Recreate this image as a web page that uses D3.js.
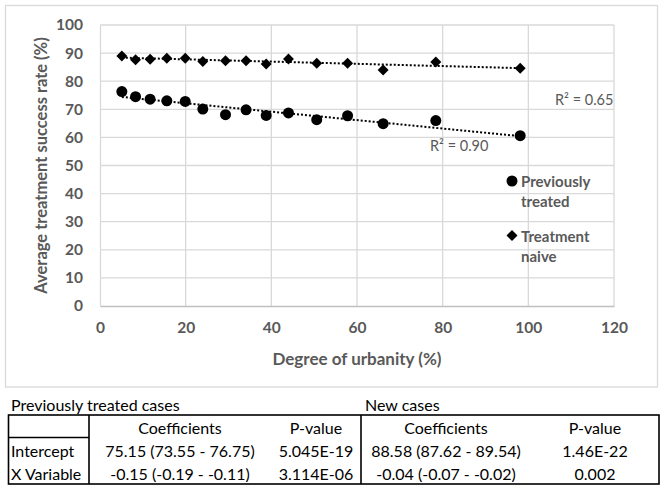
<!DOCTYPE html>
<html>
<head>
<meta charset="utf-8">
<script src="https://cdn.jsdelivr.net/npm/d3@7"></script>
<style>
  body { margin: 0; background: #fff; }
  svg { display: block; font-family: Lato, "Open Sans", sans-serif; }
</style>
</head>
<body>
<svg id="chart" width="666" height="490"></svg>
<script>
// ---- data ----
const urbanity = [5.1, 8.3, 11.7, 15.6, 19.9, 24.0, 29.3, 34.1, 38.8, 44.0, 50.6, 57.8, 66.1, 78.4, 98.1];
const previouslyTreated = [76.3, 74.5, 73.6, 73.0, 72.8, 70.1, 68.1, 69.8, 67.8, 68.7, 66.3, 67.7, 64.9, 66.0, 60.6];
const treatmentNaive = [89.0, 87.6, 87.8, 88.2, 88.2, 87.0, 87.3, 87.3, 86.1, 87.9, 86.4, 86.4, 84.0, 86.8, 84.6];
const seriesNames = ["Previously treated", "Treatment naive"];
const rSquared = ["0.90", "0.65"];
const xTicks = [0, 20, 40, 60, 80, 100, 120];
const yTicks = [0, 10, 20, 30, 40, 50, 60, 70, 80, 90, 100];
const xTitle = "Degree of urbanity (%)";
const yTitle = "Average treatment success rate (%)";
// trend coefficients (intercept, slope)
const trendPrev = [75.15, -0.15];
const trendNaive = [88.58, -0.04];
// table
const tableGroups = ["Previously treated cases", "New cases"];
const tableHeader = ["", "Coefficients", "P-value", "Coefficients", "P-value"];
const tableRowLabels = ["Intercept", "X Variable"];
const prevCoefs = ["75.15 (73.55 - 76.75)", "-0.15 (-0.19 - -0.11)"];
const prevP = ["5.045E-19", "3.114E-06"];
const newCoefs = ["88.58 (87.62 - 89.54)", "-0.04 (-0.07 - -0.02)"];
const newP = ["1.46E-22", "0.002"];

// ---- layout ----
const svg = d3.select("#chart");
const gray = "#595959";
const plot = { left: 100, right: 614, top: 25, bottom: 306 };
const x = d3.scaleLinear().domain([0, 120]).range([plot.left, plot.right]);
const y = d3.scaleLinear().domain([0, 100]).range([plot.bottom, plot.top]);

// chart area border
svg.append("rect").attr("x", 5.5).attr("y", 5.5).attr("width", 652).attr("height", 381.5)
  .attr("fill", "#fff").attr("stroke", "#d9d9d9").attr("stroke-width", 1.3);

// gridlines
const grid = svg.append("g");
grid.selectAll("line.h").data(yTicks.filter(d => d > 0)).join("line")
  .attr("x1", plot.left).attr("x2", plot.right)
  .attr("y1", d => y(d)).attr("y2", d => y(d))
  .attr("stroke", "#d9d9d9").attr("stroke-width", 1.3);
grid.selectAll("line.v").data(xTicks.filter(d => d > 0)).join("line")
  .attr("x1", d => x(d)).attr("x2", d => x(d))
  .attr("y1", plot.top).attr("y2", plot.bottom)
  .attr("stroke", "#d9d9d9").attr("stroke-width", 1.3);

// axes
const xAxis = svg.append("g").attr("transform", `translate(0,${plot.bottom})`)
  .call(d3.axisBottom(x).tickValues(xTicks).tickSize(0).tickPadding(16));
const yAxis = svg.append("g").attr("transform", `translate(${plot.left},0)`)
  .call(d3.axisLeft(y).tickValues(yTicks).tickSize(0).tickPadding(17));
[xAxis, yAxis].forEach(a => {
  a.select(".domain").attr("stroke", "#bfbfbf").attr("stroke-width", 1.3);
  a.selectAll("text").attr("fill", gray).attr("font-size", 15.5).attr("font-weight", 700)
    .attr("font-family", "Lato, sans-serif");
});
yAxis.select(".domain").attr("stroke", "#d9d9d9");

// axis titles
svg.append("text").attr("x", (plot.left + plot.right) / 2).attr("y", 358)
  .attr("text-anchor", "middle").attr("dominant-baseline", "central")
  .attr("fill", gray).attr("font-size", 17).attr("font-weight", 700).text(xTitle);
svg.append("text").attr("transform", `translate(41,${(plot.top + plot.bottom) / 2}) rotate(-90)`)
  .attr("text-anchor", "middle").attr("dominant-baseline", "central")
  .attr("fill", gray).attr("font-size", 16.5).attr("font-weight", 700).text(yTitle);

// trendlines
const xMin = d3.min(urbanity), xMax = d3.max(urbanity);
[trendPrev, trendNaive].forEach(c => {
  svg.append("line")
    .attr("x1", x(xMin)).attr("y1", y(c[0] + c[1] * xMin))
    .attr("x2", x(xMax)).attr("y2", y(c[0] + c[1] * xMax))
    .attr("stroke", "#000").attr("stroke-width", 2)
    .attr("stroke-dasharray", "2 2");
});

// markers
const diamond = d3.symbol().type(d3.symbolSquare).size(60);
svg.append("g").selectAll("circle").data(urbanity.map((u, i) => [u, previouslyTreated[i]])).join("circle")
  .attr("cx", d => x(d[0])).attr("cy", d => y(d[1])).attr("r", 5.5).attr("fill", "#000");
svg.append("g").selectAll("path").data(urbanity.map((u, i) => [u, treatmentNaive[i]])).join("path")
  .attr("d", diamond)
  .attr("transform", d => `translate(${x(d[0])},${y(d[1])}) rotate(45)`).attr("fill", "#000");

// R² labels
svg.append("text").attr("x", 430).attr("y", 145).attr("dominant-baseline", "central")
  .attr("fill", gray).attr("font-size", 14.5)
  .text(`R\u00B2 = ${rSquared[0]}`);
svg.append("text").attr("x", 555).attr("y", 99.5).attr("dominant-baseline", "central")
  .attr("fill", gray).attr("font-size", 14.5)
  .text(`R\u00B2 = ${rSquared[1]}`);

// legend
const legend = svg.append("g");
const legendY = [181, 235.5];
seriesNames.forEach((name, i) => {
  const words = name.split(" ");
  if (i === 0) legend.append("circle").attr("cx", 512).attr("cy", legendY[i]).attr("r", 5.5).attr("fill", "#000");
  else legend.append("path").attr("d", diamond)
    .attr("transform", `translate(512,${legendY[i]}) rotate(45)`).attr("fill", "#000");
  words.forEach((w, j) => {
    legend.append("text").attr("x", 521).attr("y", legendY[i] + j * 20)
      .attr("dominant-baseline", "central").attr("fill", gray)
      .attr("font-size", 15).attr("font-weight", 700).text(w);
  });
});

// ---- table ----
const tbl = svg.append("g").attr("font-size", 16).attr("fill", "#000");
tbl.append("text").attr("x", 11).attr("y", 404).attr("dominant-baseline", "central").text(tableGroups[0]);
tbl.append("text").attr("x", 365).attr("y", 404).attr("dominant-baseline", "central").text(tableGroups[1]);
const colEdges = [8.5, 89, 271, 361, 531, 659];
const rowY = [427, 450, 473];
const T = { top: 415, bottom: 484 };
// borders
tbl.append("rect").attr("x", colEdges[0]).attr("y", T.top)
  .attr("width", colEdges[5] - colEdges[0]).attr("height", T.bottom - T.top)
  .attr("fill", "none").attr("stroke", "#000").attr("stroke-width", 1.6);
[colEdges[1], colEdges[3]].forEach(cx => tbl.append("line").attr("x1", cx).attr("x2", cx)
  .attr("y1", T.top).attr("y2", T.bottom).attr("stroke", "#000").attr("stroke-width", 1.6));
tbl.append("line").attr("x1", colEdges[0]).attr("x2", colEdges[1]).attr("y1", 437.5).attr("y2", 437.5)
  .attr("stroke", "#000").attr("stroke-width", 1.3);
const colCenter = i => (colEdges[i] + colEdges[i + 1]) / 2;
tableHeader.forEach((h, i) => {
  if (h) tbl.append("text").attr("x", colCenter(i)).attr("y", rowY[0])
    .attr("text-anchor", "middle").attr("dominant-baseline", "central").text(h);
});
tableRowLabels.forEach((lab, r) => {
  const cells = [lab, prevCoefs[r], prevP[r], newCoefs[r], newP[r]];
  cells.forEach((c, i) => {
    const t = tbl.append("text").attr("y", rowY[r + 1]).attr("dominant-baseline", "central").text(c);
    if (i === 0) t.attr("x", 11);
    else t.attr("x", colCenter(i)).attr("text-anchor", "middle");
  });
});
</script>
</body>
</html>
